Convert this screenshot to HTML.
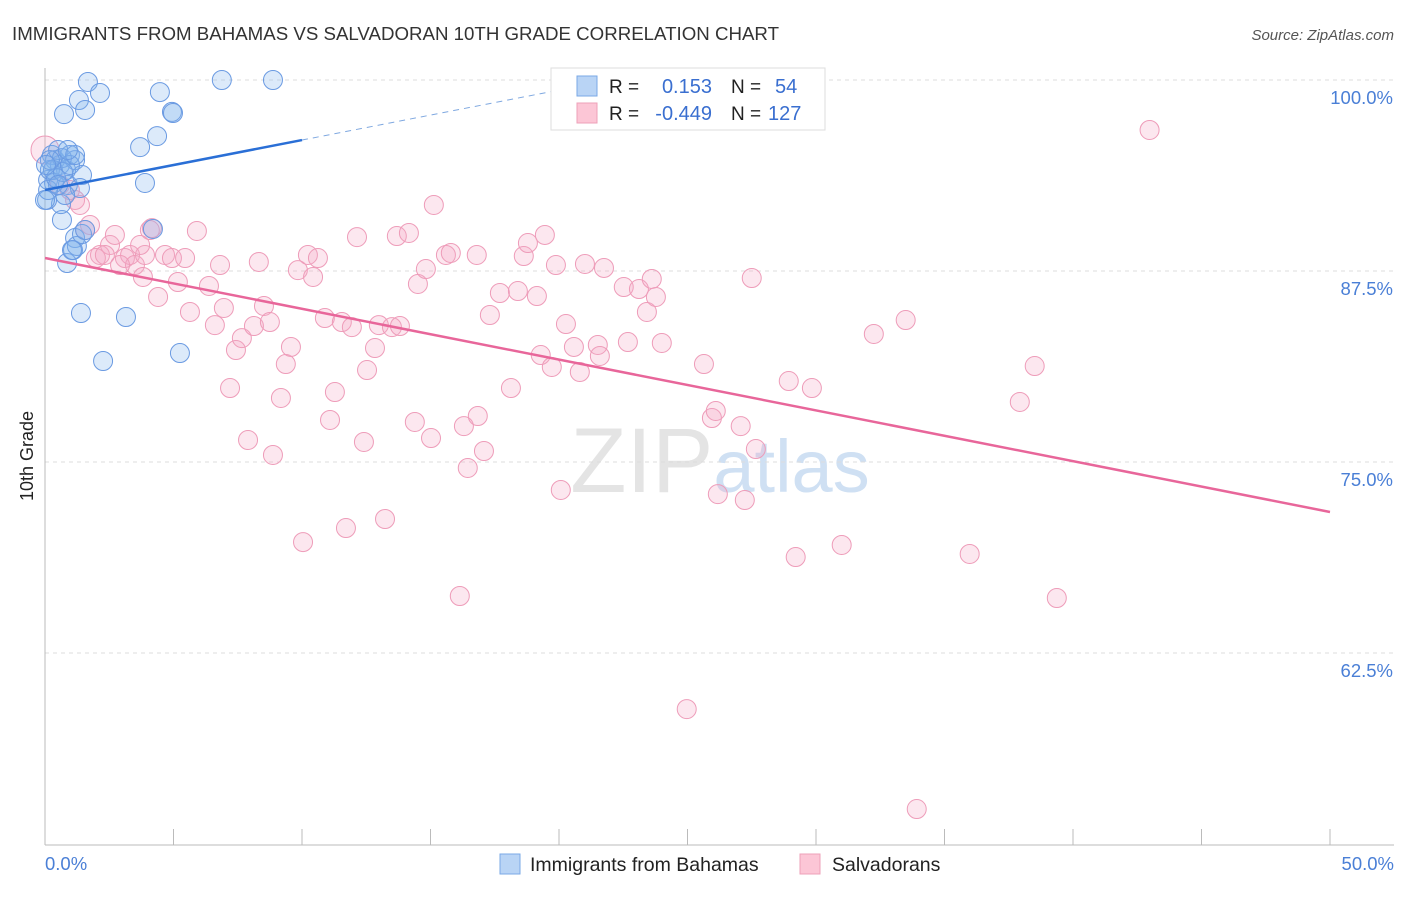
<!DOCTYPE html>
<html><head><meta charset="utf-8"><style>
body{margin:0;background:#fff;font-family:"Liberation Sans",sans-serif}
svg text{font-family:"Liberation Sans",sans-serif}
</style></head><body>
<svg id="chart" width="1406" height="892" viewBox="0 0 1406 892" xmlns="http://www.w3.org/2000/svg">
<text x="12" y="40" font-size="18.7" fill="#333">IMMIGRANTS FROM BAHAMAS VS SALVADORAN 10TH GRADE CORRELATION CHART</text>
<text x="1394" y="40" font-size="15" fill="#555" text-anchor="end" font-style="italic">Source: ZipAtlas.com</text>
<text x="720" y="492" font-size="92" fill="#e4e4e4" text-anchor="middle" font-family="Liberation Serif">ZIP<tspan fill="#cfe0f3" font-family="Liberation Sans" font-size="74">atlas</tspan></text>
<g id="grid"></g>
<g id="axes"></g>
<g id="pts"></g>
<g id="trends"></g>
<text transform="translate(33,456) rotate(-90)" font-size="18" fill="#222" text-anchor="middle">10th Grade</text>
<text x="45" y="870" font-size="18.5" fill="#4a7fd6">0.0%</text>
<text x="1394" y="870" font-size="18.5" fill="#4a7fd6" text-anchor="end">50.0%</text>
<g>
<rect x="551" y="68" width="274" height="62" fill="#fff" stroke="#ddd"/>
<rect x="577" y="76" width="20" height="20" fill="#b9d4f5" stroke="#7aa8e6"/>
<rect x="577" y="103" width="20" height="20" fill="#fcc6d6" stroke="#eea0b8"/>
<text x="609" y="93" font-size="19" fill="#222">R =</text>
<text x="712" y="93" font-size="20" fill="#3a6fd0" text-anchor="end">0.153</text>
<text x="731" y="93" font-size="19" fill="#222">N =</text>
<text x="775" y="93" font-size="20" fill="#3a6fd0">54</text>
<text x="609" y="120" font-size="19" fill="#222">R =</text>
<text x="712" y="120" font-size="20" fill="#3a6fd0" text-anchor="end">-0.449</text>
<text x="731" y="120" font-size="19" fill="#222">N =</text>
<text x="768" y="120" font-size="20" fill="#3a6fd0">127</text>
</g>
<g>
<rect x="500" y="854" width="20" height="20" fill="#b9d4f5" stroke="#7aa8e6"/>
<text x="530" y="871" font-size="19.5" fill="#222">Immigrants from Bahamas</text>
<rect x="800" y="854" width="20" height="20" fill="#fcc6d6" stroke="#eea0b8"/>
<text x="832" y="871" font-size="19.5" fill="#222">Salvadorans</text>
</g>
</svg>
<script>
const yTicks=[100,87.5,75,62.5];
const yTickLabels=["100.0%","87.5%","75.0%","62.5%"];
const xTicks=[0,5,10,15,20,25,30,35,40,45,50];
const blueX=[1.67,6.88,8.87,2.14,1.32,4.47,0.74,1.56,4.94,4.98,4.36,3.70,3.89,4.20,0.86,1.17,1.09,1.24,1.44,0.66,0.62,1.40,3.15,2.26,5.25,0.12,0.08,0.27,0.39,0.58,0.82,0.97,1.17,0.51,0.19,0.89,1.44,1.36,0.78,0.35,0.66,0.12,1.56,1.05,0.31,0.43,0.70,0.97,1.17,0.19,0.51,0.89,0,0.04];
const blueY=[99.87,100,100,99.15,98.69,99.21,97.77,98.04,97.91,97.84,96.33,95.61,93.26,90.25,88.02,89.66,88.87,89.14,89.92,90.84,91.88,84.75,84.49,81.61,82.13,93.46,92.15,95.09,94.76,94.44,94.11,95.09,94.76,95.42,94.11,93.13,93.78,92.93,92.47,93.26,94.89,92.80,90.18,88.87,94.11,93.59,93.98,94.44,95.09,94.76,93.13,95.42,92.15,94.44];
const pinkX=[42.98,0,0.58,0.97,1.17,1.36,1.75,1.56,2.14,2.53,2.72,3.11,3.31,3.50,3.81,4.08,4.40,4.67,4.94,5.17,5.45,5.64,5.91,6.38,6.61,6.81,6.96,7.43,7.20,7.66,7.90,8.13,8.32,8.52,8.75,8.87,9.18,9.37,9.57,9.84,10.04,10.23,10.43,10.62,10.89,11.09,11.28,11.55,11.71,11.94,12.14,12.41,12.53,12.84,12.99,13.23,13.50,13.69,13.81,14.16,14.39,14.51,14.82,15.02,15.13,15.60,15.79,16.14,16.30,16.45,16.80,16.84,17.08,17.31,17.70,18.13,18.40,18.63,18.79,19.14,19.29,19.45,19.72,19.88,20.07,20.27,20.58,20.81,21.01,21.51,21.75,21.59,22.52,22.68,23.11,23.42,23.61,23.77,24.00,24.97,25.64,25.95,26.10,26.18,27.07,27.23,27.50,27.66,28.94,29.21,29.84,31.00,32.25,33.49,33.92,35.98,37.93,38.51,39.37,1.98,2.33,2.92,3.89,4.16,3.70,24.9];
const pinkY=[96.73,95.42,93.13,92.80,92.15,91.82,90.51,90.18,88.55,89.20,89.86,88.35,88.55,87.89,87.11,90.18,85.80,88.55,88.35,86.78,88.35,84.82,90.12,86.52,83.96,87.89,85.08,82.33,79.84,83.11,76.44,83.90,88.09,85.21,84.16,75.46,79.19,81.41,82.53,87.56,69.76,88.55,87.11,88.35,84.42,77.75,79.58,84.16,70.68,83.83,89.72,76.31,81.02,82.46,83.96,71.27,83.83,89.79,83.90,89.99,77.62,86.65,87.63,76.57,91.82,88.55,88.68,66.23,77.35,74.61,88.55,78.01,75.72,84.62,86.06,79.84,86.19,88.48,89.33,85.86,82.00,89.86,81.22,87.89,73.17,84.03,82.53,80.89,87.96,82.66,87.70,81.94,86.45,82.85,86.32,84.82,86.98,85.80,82.79,58.83,81.41,77.88,78.34,72.90,77.35,72.51,87.04,75.85,80.30,68.78,79.84,69.57,83.38,84.29,52.29,68.98,78.93,81.28,66.10,88.35,88.55,87.89,88.55,90.31,89.20,99.87];
const blueTrend=[92.8,0.327];
const pinkTrend=[88.35,-0.3324];
const NS="http://www.w3.org/2000/svg";
const X=v=>45+v*25.7;
const Y=v=>80+(100-v)*15.28;
function mk(tag,attrs,parent){const e=document.createElementNS(NS,tag);for(const k in attrs)e.setAttribute(k,attrs[k]);parent.appendChild(e);return e;}
const grid=document.getElementById('grid'),axes=document.getElementById('axes'),pts=document.getElementById('pts'),tr=document.getElementById('trends');
yTicks.forEach((t,i)=>{
 const l=mk('line',{x1:45,x2:1394,y1:Y(t),y2:Y(t),stroke:'#ddd','stroke-dasharray':'4,4'},grid);
 
 
 const tx=mk('text',{x:1393,y:Y(t)+24,'font-size':18.5,fill:'#4a7fd6','text-anchor':'end'},grid);
 tx.textContent=yTickLabels[i];
 
 
});
const ya=mk('line',{x1:45,x2:45,y1:68,y2:845,stroke:'#bbb'},axes);


const xa=mk('line',{x1:45,x2:1394,y1:845,y2:845,stroke:'#bbb'},axes);


xTicks.forEach(t=>{
 const l=mk('line',{x1:X(t),x2:X(t),y1:829,y2:845,stroke:'#bbb'},axes);
 
 
});
pinkX.forEach((x,i)=>{
 const c=mk('circle',{cx:X(x),cy:Y(pinkY[i]),r:i===1?14:9.5,fill:'rgba(246,170,198,0.28)',stroke:'#ee9cb9','stroke-width':1},pts);
 
 
});
blueX.forEach((x,i)=>{
 const c=mk('circle',{cx:X(x),cy:Y(blueY[i]),r:9.5,fill:'rgba(130,178,238,0.28)',stroke:'#6a9ae2','stroke-width':1},pts);
 
 
});
const b1=mk('line',{x1:X(0),y1:Y(blueTrend[0]),x2:X(10),y2:Y(blueTrend[0]+10*blueTrend[1]),stroke:'#2a6fd6','stroke-width':2.5},tr);


const b2=mk('line',{x1:X(10),y1:Y(blueTrend[0]+10*blueTrend[1]),x2:X(22),y2:Y(blueTrend[0]+22*blueTrend[1]),stroke:'#7fa8e0','stroke-width':1,'stroke-dasharray':'6,5'},tr);


const p1=mk('line',{x1:X(0),y1:Y(pinkTrend[0]),x2:X(50),y2:Y(pinkTrend[0]+50*pinkTrend[1]),stroke:'#e8669a','stroke-width':2.5},tr);


</script>
</body></html>
